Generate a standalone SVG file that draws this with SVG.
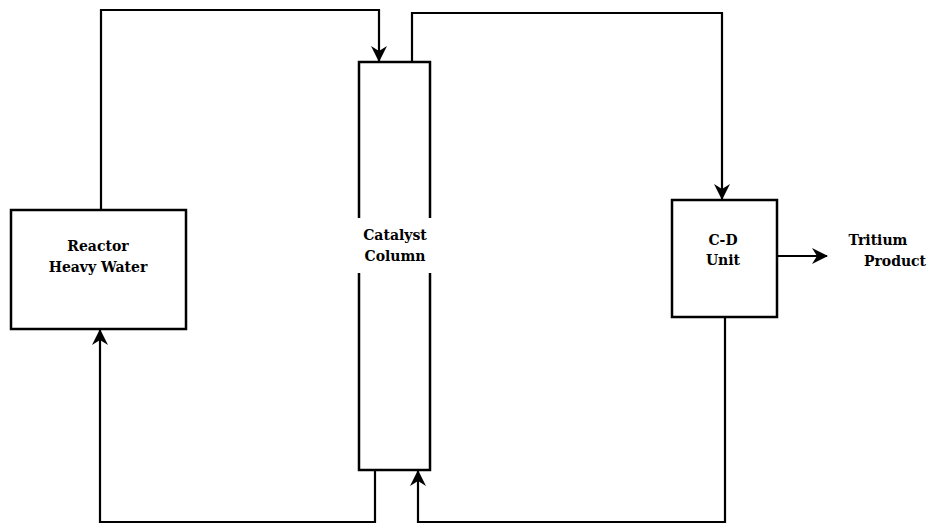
<svg xmlns="http://www.w3.org/2000/svg" width="934" height="526" viewBox="0 0 934 526">
<defs>
<style>
.box{fill:none;stroke:#000;stroke-width:2.5}
.ln{fill:none;stroke:#000;stroke-width:2.2}
.t{font-family:'DejaVu Serif','Liberation Serif',serif;font-weight:bold;font-size:14px;fill:#000;text-anchor:middle}
</style>
<marker id="ah" viewBox="0 0 16 16" refX="15" refY="8" markerWidth="16" markerHeight="16" markerUnits="userSpaceOnUse" orient="auto">
<path d="M0,0 L16,8 L0,16 L5,8 Z" fill="#000"/>
</marker>
</defs>
<rect width="934" height="526" fill="#fff"/>
<g id="reactor">
<rect class="box" x="11" y="210" width="175" height="119"/>
<text class="t" x="98" y="251">Reactor</text>
<text class="t" x="98" y="272">Heavy Water</text>
</g>
<g id="catalyst">
<path class="box" d="M359,218 V62 H430 V218 M359,273 V470 H430 V273"/>
<text class="t" x="395" y="240">Catalyst</text>
<text class="t" x="395" y="261">Column</text>
</g>
<g id="cd">
<rect class="box" x="672" y="200" width="105" height="117"/>
<text class="t" x="723" y="245">C-D</text>
<text class="t" x="723" y="265">Unit</text>
</g>
<g id="product">
<text class="t" x="878" y="245">Tritium</text>
<text class="t" x="895" y="266">Product</text>
</g>
<g id="connectors">
<path class="ln" marker-end="url(#ah)" d="M101,210 V10 H379 V61"/>
<path class="ln" marker-end="url(#ah)" d="M412,62 V13 H722 V199"/>
<path class="ln" marker-end="url(#ah)" d="M777,256 H827"/>
<path class="ln" marker-end="url(#ah)" d="M375,470 V522 H100 V330"/>
<path class="ln" marker-end="url(#ah)" d="M725,317 V522 H418 V471"/>
</g>
</svg>
